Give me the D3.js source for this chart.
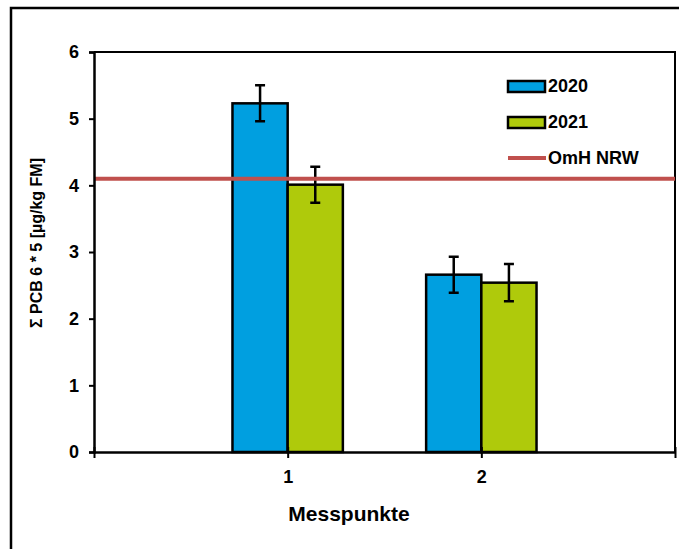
<!DOCTYPE html>
<html>
<head>
<meta charset="utf-8">
<script src="https://cdn.jsdelivr.net/npm/d3@7"></script>
<style>
  body { margin: 0; background: #fff; }
  text { font-family: "Liberation Sans", Arial, sans-serif; font-weight: bold; fill: #000; }
</style>
</head>
<body>
<svg></svg>
<script>
// data
const categories = [1, 2];
const values2020 = [5.23, 2.66];
const values2021 = [4.01, 2.54];
const err2020 = [0.27, 0.27];
const err2021 = [0.27, 0.28];
const threshold = 4.1;
const yTicks = [0, 1, 2, 3, 4, 5, 6];
const seriesNames = ['2020', '2021'];
const thresholdName = 'OmH NRW';

const width = 679;
const height = 549;

const colors = ['#009fe0', '#afca0b'];
const red = '#c0504d';

const svg = d3.select('svg')
  .attr('width', width)
  .attr('height', height);

// outer frame (runs off the right and bottom edges)
svg.append('rect')
  .attr('x', 11)
  .attr('y', 8)
  .attr('width', 720)
  .attr('height', 600)
  .attr('fill', 'none')
  .attr('stroke', '#000')
  .attr('stroke-width', 2.5);

const xScale = d3.scaleLinear()
  .domain([0, 3])
  .range([94, 675]);

const yScale = d3.scaleLinear()
  .domain([0, 6])
  .range([452, 52]);

const barW = 0.285;

// plot box top and right
svg.append('path')
  .attr('d', `M${xScale(0)},${yScale(6)}H${xScale(3)}V${yScale(0)}`)
  .attr('fill', 'none')
  .attr('stroke', '#000')
  .attr('stroke-width', 2);

const series = [
  { name: seriesNames[0], values: values2020, err: err2020, offset: -barW, color: colors[0] },
  { name: seriesNames[1], values: values2021, err: err2021, offset: 0, color: colors[1] }
];

series.forEach(s => {
  const g = svg.append('g');
  g.selectAll('rect')
    .data(categories)
    .enter()
    .append('rect')
    .attr('x', (d, i) => xScale(d + s.offset))
    .attr('y', (d, i) => yScale(s.values[i]))
    .attr('width', xScale(barW) - xScale(0))
    .attr('height', (d, i) => yScale(0) - yScale(s.values[i]))
    .attr('fill', s.color)
    .attr('stroke', '#000')
    .attr('stroke-width', 2.5);

  // error bars
  categories.forEach((d, i) => {
    const cx = xScale(d + s.offset + barW / 2);
    const top = yScale(s.values[i] + s.err[i]);
    const bot = yScale(s.values[i] - s.err[i]);
    g.append('path')
      .attr('d', `M${cx},${top}V${bot}M${cx - 5},${top}H${cx + 5}M${cx - 5},${bot}H${cx + 5}`)
      .attr('stroke', '#000')
      .attr('stroke-width', 2.5)
      .attr('fill', 'none');
  });
});

// threshold line
svg.append('line')
  .attr('x1', xScale(0))
  .attr('x2', xScale(3))
  .attr('y1', yScale(threshold))
  .attr('y2', yScale(threshold))
  .attr('stroke', red)
  .attr('stroke-width', 4);

// axes
const yAxis = d3.axisLeft(yScale)
  .tickValues(yTicks)
  .tickFormat(d3.format('d'))
  .tickSize(5)
  .tickPadding(10);

const yG = svg.append('g')
  .attr('transform', `translate(${xScale(0)},0)`)
  .call(yAxis);

const xAxis = d3.axisBottom(xScale)
  .tickValues([0, 1, 2, 3])
  .tickFormat(d => categories.includes(d) ? d : '')
  .tickSizeInner(6)
  .tickSizeOuter(0)
  .tickPadding(12);

const xG = svg.append('g')
  .attr('transform', `translate(0,${yScale(0)})`)
  .call(xAxis);

[yG, xG].forEach(a => {
  a.select('.domain').attr('stroke', '#000').attr('stroke-width', 2.5);
  a.selectAll('.tick line').attr('stroke', '#000').attr('stroke-width', 2);
  a.selectAll('.tick text')
    .style('font-family', '"Liberation Sans", Arial, sans-serif')
    .style('font-weight', 'bold')
    .style('font-size', '18px')
    .attr('fill', '#000');
});

// x ticks cross the axis
xG.selectAll('.tick line').attr('y1', -5).attr('y2', 6);

// axis titles
svg.append('text')
  .attr('x', 349)
  .attr('y', 521)
  .attr('text-anchor', 'middle')
  .style('font-size', '21px')
  .text('Messpunkte');

svg.append('text')
  .attr('transform', `translate(42,243) rotate(-90)`)
  .attr('text-anchor', 'middle')
  .style('font-size', '16px')
  .text('Σ PCB 6 * 5 [µg/kg FM]');

// legend
const legend = svg.append('g')
  .attr('transform', 'translate(508,0)');

series.forEach((s, i) => {
  const y = 81 + i * 36;
  legend.append('rect')
    .attr('x', 0)
    .attr('y', y)
    .attr('width', 37)
    .attr('height', 11)
    .attr('fill', s.color)
    .attr('stroke', '#000')
    .attr('stroke-width', 2.5);
  legend.append('text')
    .attr('x', 40)
    .attr('y', y + 11)
    .style('font-size', '18px')
    .text(s.name);
});

legend.append('line')
  .attr('x1', 0)
  .attr('x2', 38)
  .attr('y1', 158)
  .attr('y2', 158)
  .attr('stroke', red)
  .attr('stroke-width', 4);

legend.append('text')
  .attr('x', 40)
  .attr('y', 164)
  .style('font-size', '18px')
  .text(thresholdName);
</script>
</body>
</html>
